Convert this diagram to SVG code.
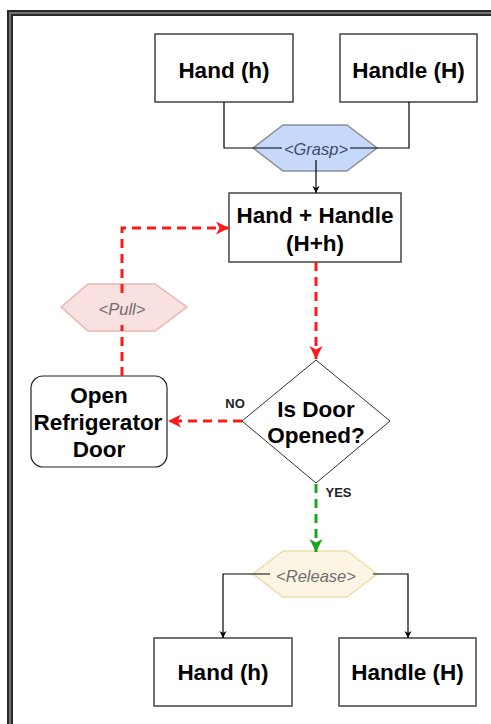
<svg xmlns="http://www.w3.org/2000/svg" width="491" height="724" viewBox="0 0 491 724">
<style>
.box{fill:#fff;stroke:#444;stroke-width:1.5}
.t{font-family:"Liberation Sans",Arial,sans-serif;font-weight:bold;font-size:22.5px;fill:#000;text-anchor:middle}
.lab{font-family:"Liberation Sans",Arial,sans-serif;font-weight:bold;font-size:13px;fill:#222;text-anchor:middle}
.it{font-family:"Liberation Sans",Arial,sans-serif;font-style:italic;font-size:16.5px;text-anchor:middle}
.blk{fill:none;stroke:#000;stroke-width:1.2}
.red{fill:none;stroke:#ff1a1a;stroke-width:3;stroke-dasharray:9 6}
.grn{fill:none;stroke:#1ea51e;stroke-width:3;stroke-dasharray:9 6}
</style>
<defs>
<marker id="ab" markerUnits="userSpaceOnUse" markerWidth="8" markerHeight="8" refX="7" refY="3.5" orient="auto"><path d="M0,0 L7,3.5 L0,7 L2,3.5 Z" fill="#000"/></marker>
<marker id="ar" markerUnits="userSpaceOnUse" markerWidth="14" markerHeight="14" refX="13" refY="6.5" orient="auto"><path d="M0,0 L13,6.5 L0,13 L3.5,6.5 Z" fill="#ff1a1a"/></marker>
<marker id="ag" markerUnits="userSpaceOnUse" markerWidth="14" markerHeight="14" refX="13" refY="6.5" orient="auto"><path d="M0,0 L13,6.5 L0,13 L3.5,6.5 Z" fill="#1ea51e"/></marker>
</defs>
<rect width="491" height="724" fill="#fff"/>
<g id="frame">
<path d="M10,730 V13 H500" fill="none" stroke="#2a2a2a" stroke-width="6"/>
<path d="M10,730 V13 H500" fill="none" stroke="#8a8a8a" stroke-width="1.5"/>
</g>
<g id="hand-top"><rect class="box" x="155" y="34" width="138" height="68"/><text class="t" x="224" y="78">Hand (h)</text></g>
<g id="handle-top"><rect class="box" x="340" y="34" width="137" height="68"/><text class="t" x="408.5" y="78">Handle (H)</text></g>
<g id="grasp"><polygon points="253,148 283,125 347,125 377,148 347,171 283,171" fill="#c6d9fa" stroke="#8c9099" stroke-width="1.5"/><text class="it" x="316" y="155" fill="#3e4a68">&lt;Grasp&gt;</text></g>
<g id="hand-handle"><rect class="box" x="229" y="193" width="172" height="69"/><text class="t" x="315" y="223">Hand + Handle</text><text class="t" x="315" y="251">(H+h)</text></g>
<g id="pull"><polygon points="61,307 88,284 155,284 187,307 155,331 88,331" fill="#f9e1e0" stroke="#e6b6b3" stroke-width="1.5"/><text class="it" x="122" y="315" fill="#6e6e6e">&lt;Pull&gt;</text></g>
<g id="decision"><polygon points="316,360 390,421 316,483 242,421" fill="#fff" stroke="#333" stroke-width="1"/><text class="t" x="316" y="417">Is Door</text><text class="t" x="316" y="443">Opened?</text></g>
<g id="open-door"><rect x="31" y="376" width="136" height="91" rx="12" fill="#fff" stroke="#222" stroke-width="1.2"/><text class="t" x="99" y="403">Open</text><text class="t" x="98" y="430">Refrigerator</text><text class="t" x="99" y="457">Door</text></g>
<g id="release"><polygon points="253,574 283,551 347,551 377,574 347,597 283,597" fill="#fdf5e3" stroke="#ecdcaf" stroke-width="1.5"/><text class="it" x="316" y="582" fill="#6e6e6e">&lt;Release&gt;</text></g>
<g id="hand-bottom"><rect class="box" x="154" y="638" width="138" height="68"/><text class="t" x="223" y="680">Hand (h)</text></g>
<g id="handle-bottom"><rect class="box" x="339" y="638" width="137" height="68"/><text class="t" x="407.5" y="680">Handle (H)</text></g>
<g id="connectors">
<path class="blk" d="M224,102 V148 H282"/>
<path class="blk" d="M409,102 V148 H350"/>
<path class="blk" d="M316,160 V193" marker-end="url(#ab)"/>
<path class="red" d="M316,262 V359" marker-end="url(#ar)"/>
<path class="red" d="M242,421 H168" marker-end="url(#ar)"/>
<path class="red" d="M122,376 V325"/>
<path class="red" d="M122,293 V228 H229" marker-end="url(#ar)"/>
<path class="grn" d="M316,484 V552" marker-end="url(#ag)"/>
<path class="blk" d="M270,574 H223 V638" marker-end="url(#ab)"/>
<path class="blk" d="M373,574 H408 V638" marker-end="url(#ab)"/>
<text class="lab" x="235" y="408">NO</text>
<text class="lab" x="338.5" y="497">YES</text>
</g>
</svg>
